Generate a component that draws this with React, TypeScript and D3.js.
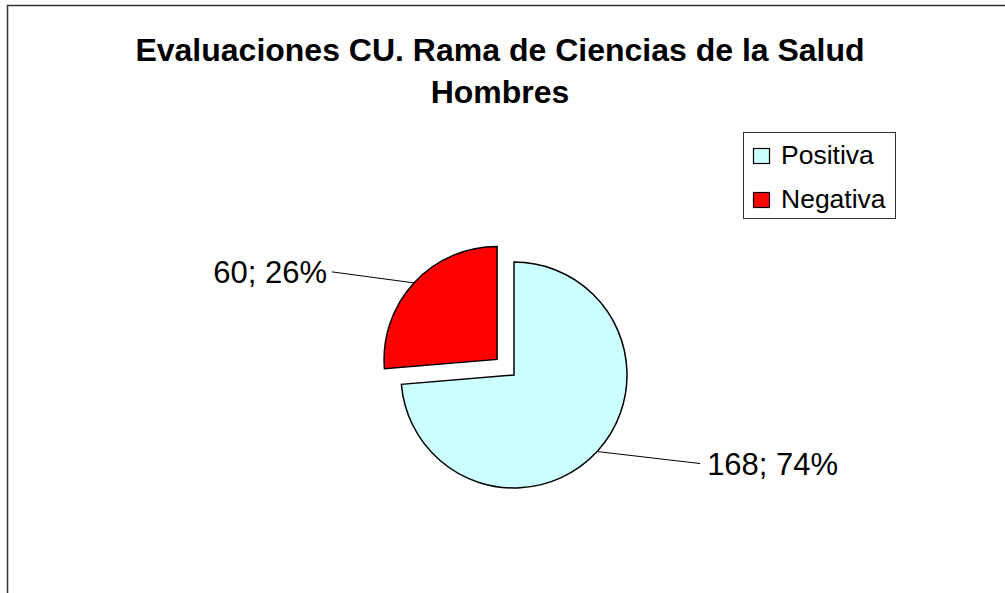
import React, { useEffect, useRef } from 'react';
import * as d3 from 'd3';

// chart data
const categories = ['Positiva', 'Negativa'];
const values = [168, 60];
const colors = ['#CCFFFF', '#FF0000'];
const titleLines = ['Evaluaciones CU. Rama de Ciencias de la Salud', 'Hombres'];

const W = 1005;
const H = 593;
const FONT = "Arial, 'Liberation Sans', sans-serif";

export default function App() {
  const ref = useRef<SVGSVGElement>(null);

  useEffect(() => {
    const svg = d3.select(ref.current);
    svg.selectAll('*').remove();

    // chart frame (runs past right and bottom of the page)
    svg.append('rect')
      .attr('x', 7.5).attr('y', 5.5)
      .attr('width', W + 20).attr('height', H + 20)
      .attr('fill', 'white').attr('stroke', '#333').attr('stroke-width', 1.5);

    // title
    svg.append('g').selectAll('text')
      .data(titleLines)
      .join('text')
      .attr('x', 500)
      .attr('y', (d, i) => 61 + i * 42)
      .attr('text-anchor', 'middle')
      .attr('font-family', FONT)
      .attr('font-weight', 'bold')
      .attr('font-size', 32)
      .text(d => d);

    // pie
    const cx = 514, cy = 375, r = 113, explode = 23;
    const total = d3.sum(values);
    const pie = d3.pie<number>().sort(null).value(d => d);
    const arcs = pie(values);
    const arc = d3.arc<d3.PieArcDatum<number>>().innerRadius(0).outerRadius(r);

    const mid = (a: d3.PieArcDatum<number>) => (a.startAngle + a.endAngle) / 2;
    const offset = (a: d3.PieArcDatum<number>, i: number) => {
      const k = i === 1 ? explode : 0;
      return [Math.sin(mid(a)) * k, -Math.cos(mid(a)) * k];
    };

    const g = svg.append('g').attr('transform', `translate(${cx},${cy})`);
    g.selectAll('path')
      .data(arcs)
      .join('path')
      .attr('transform', (d, i) => `translate(${offset(d, i)})`)
      .attr('d', arc)
      .attr('fill', (d, i) => colors[i])
      .attr('stroke', '#000')
      .attr('stroke-width', 1.5)
      .attr('stroke-linejoin', 'miter');

    // data labels with leader lines
    const leader = [[103, 12], [-82, -11]];
    arcs.forEach((a, i) => {
      const [ox, oy] = offset(a, i);
      const px = ox + Math.sin(mid(a)) * r;
      const py = oy - Math.cos(mid(a)) * r;
      const ex = px + leader[i][0];
      const ey = py + leader[i][1];
      g.append('line')
        .attr('x1', px).attr('y1', py).attr('x2', ex).attr('y2', ey)
        .attr('stroke', '#000').attr('stroke-width', 1);
      const right = leader[i][0] > 0;
      g.append('text')
        .attr('x', right ? ex + 7 : ex - 5)
        .attr('y', ey + 11)
        .attr('text-anchor', right ? 'start' : 'end')
        .attr('font-family', FONT)
        .attr('font-size', 31)
        .text(`${values[i]}; ${Math.round((values[i] / total) * 100)}%`);
    });

    // legend
    const lg = svg.append('g');
    lg.append('rect')
      .attr('x', 743.5).attr('y', 132.5).attr('width', 152).attr('height', 86)
      .attr('fill', 'white').attr('stroke', '#333').attr('stroke-width', 1);
    const items = lg.selectAll('g.item')
      .data(categories)
      .join('g')
      .attr('class', 'item')
      .attr('transform', (d, i) => `translate(0,${i * 44})`);
    items.append('rect')
      .attr('x', 753.5).attr('y', 148.5).attr('width', 16).attr('height', 15)
      .attr('fill', (d, i) => colors[i])
      .attr('stroke', '#000').attr('stroke-width', 1.2);
    items.append('text')
      .attr('x', 781).attr('y', 164)
      .attr('font-family', FONT)
      .attr('font-size', 26.5)
      .text(d => d);
  }, []);

  return (
    <svg ref={ref} width={W} height={H}
      style={{ position: 'absolute', left: 0, top: 0, background: 'white' }} />
  );
}
